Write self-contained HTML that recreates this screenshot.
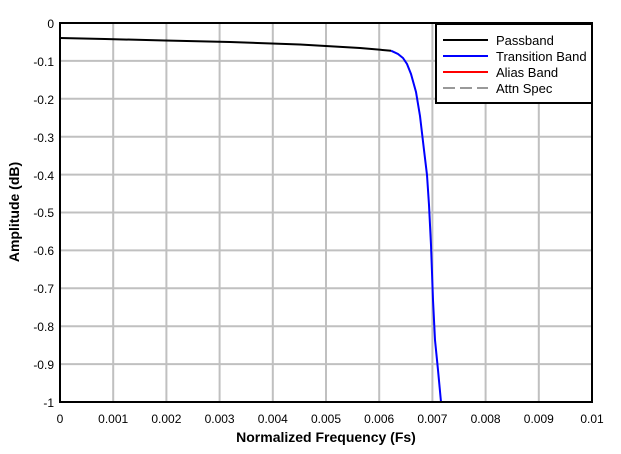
<!DOCTYPE html>
<html><head><meta charset="utf-8"><style>body{margin:0;background:#fff}svg{display:block}</style></head>
<body>
<svg width="621" height="454" xmlns="http://www.w3.org/2000/svg" font-family="Liberation Sans, sans-serif">
<rect width="621" height="454" fill="#fff"/>
<g stroke="#c0c0c0" stroke-width="2">
<line x1="113.2" y1="23" x2="113.2" y2="402"/><line x1="166.4" y1="23" x2="166.4" y2="402"/><line x1="219.6" y1="23" x2="219.6" y2="402"/><line x1="272.8" y1="23" x2="272.8" y2="402"/><line x1="326" y1="23" x2="326" y2="402"/><line x1="379.2" y1="23" x2="379.2" y2="402"/><line x1="432.4" y1="23" x2="432.4" y2="402"/><line x1="485.6" y1="23" x2="485.6" y2="402"/><line x1="538.8" y1="23" x2="538.8" y2="402"/>
<line x1="60" y1="60.9" x2="592" y2="60.9"/><line x1="60" y1="98.8" x2="592" y2="98.8"/><line x1="60" y1="136.7" x2="592" y2="136.7"/><line x1="60" y1="174.6" x2="592" y2="174.6"/><line x1="60" y1="212.5" x2="592" y2="212.5"/><line x1="60" y1="250.4" x2="592" y2="250.4"/><line x1="60" y1="288.3" x2="592" y2="288.3"/><line x1="60" y1="326.2" x2="592" y2="326.2"/><line x1="60" y1="364.1" x2="592" y2="364.1"/>
</g>
<polyline fill="none" stroke="#000" stroke-width="2" points="60,38 105,39 165,40.5 230,42 300,44.5 360,48 391,50.7"/>
<polyline fill="none" stroke="#0000ff" stroke-width="2" points="391,50.7 398,54 403,58 407,64 411,74 416,92 420,116 424,150 427,175 429,205 431,245 433,300 435,340 438,370 441,402"/>
<rect x="60" y="23" width="532" height="379" fill="none" stroke="#000" stroke-width="2"/>
<rect x="436" y="24" width="156" height="79" fill="#fff" stroke="#000" stroke-width="2"/>
<g stroke-width="2"><line x1="443" y1="40" x2="488" y2="40" stroke="#000"/><line x1="443" y1="56" x2="488" y2="56" stroke="#0000ff"/><line x1="443" y1="72" x2="488" y2="72" stroke="#ff0000"/><line x1="443" y1="88" x2="488" y2="88" stroke="#999" stroke-dasharray="12,5"/></g>
<g font-size="13" fill="#000"><text x="496" y="45">Passband</text><text x="496" y="61">Transition Band</text><text x="496" y="77">Alias Band</text><text x="496" y="93">Attn Spec</text></g>
<g font-size="12" text-anchor="end"><text x="54" y="28">0</text><text x="54" y="66">-0.1</text><text x="54" y="104">-0.2</text><text x="54" y="142">-0.3</text><text x="54" y="180">-0.4</text><text x="54" y="217">-0.5</text><text x="54" y="255">-0.6</text><text x="54" y="293">-0.7</text><text x="54" y="331">-0.8</text><text x="54" y="369">-0.9</text><text x="54" y="407">-1</text></g>
<g font-size="12" text-anchor="middle"><text x="60" y="423">0</text><text x="113.2" y="423">0.001</text><text x="166.4" y="423">0.002</text><text x="219.6" y="423">0.003</text><text x="272.8" y="423">0.004</text><text x="326" y="423">0.005</text><text x="379.2" y="423">0.006</text><text x="432.4" y="423">0.007</text><text x="485.6" y="423">0.008</text><text x="538.8" y="423">0.009</text><text x="592" y="423">0.01</text></g>
<text x="326" y="442" font-size="14" font-weight="bold" text-anchor="middle">Normalized Frequency (Fs)</text>
<text transform="translate(19,212) rotate(-90)" font-size="14" font-weight="bold" text-anchor="middle">Amplitude (dB)</text>
</svg>
</body></html>
